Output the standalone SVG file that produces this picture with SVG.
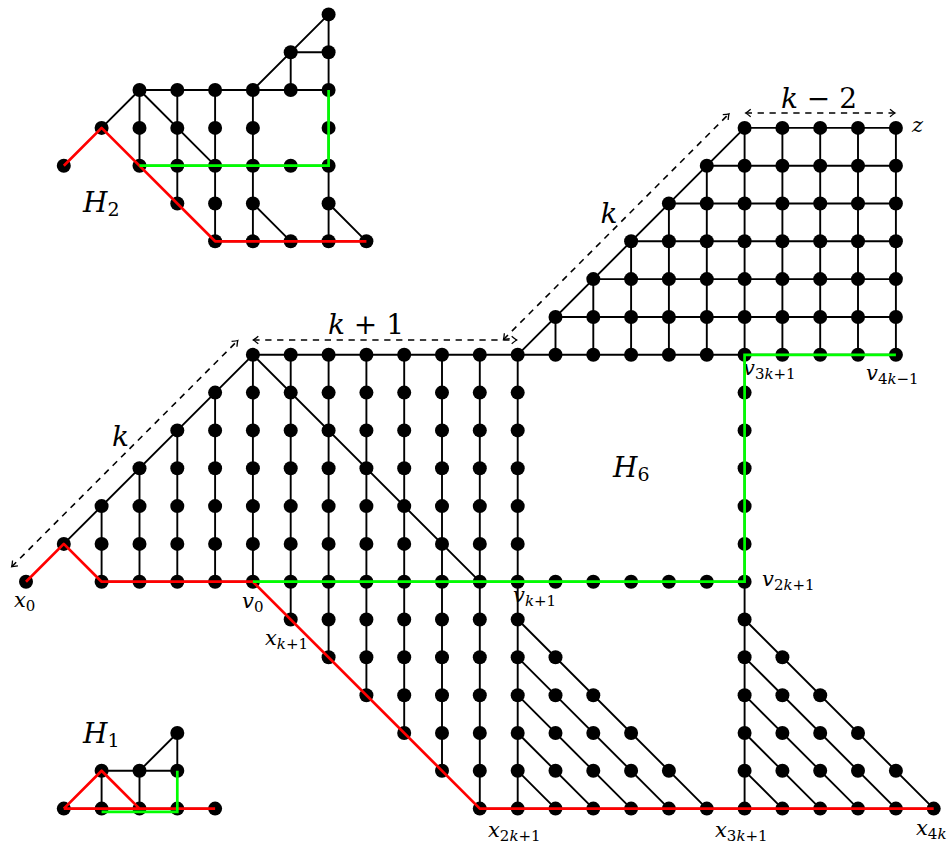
<svg xmlns="http://www.w3.org/2000/svg" width="950" height="844" viewBox="0 0 950 844">
<defs>
<style>
.e{fill:none;stroke:#000;stroke-width:1.9}
.r{fill:none;stroke:#ff0000;stroke-width:2.7;stroke-linejoin:round}
.g{fill:none;stroke:#00ff00;stroke-width:2.7;stroke-linejoin:miter}
.dim{fill:none;stroke:#000;stroke-width:1.6;stroke-dasharray:6.3 5.6;marker-start:url(#ah);marker-end:url(#ah)}
circle{fill:#000}
text{font-family:"DejaVu Serif",serif;fill:#000}
.lb{font-size:21px}
.sub{font-size:15px}
.i{font-style:italic}
.dl{font-size:28px;font-style:italic}
.H{font-size:28px}
.Hs{font-size:19px;font-style:normal}
</style>
<marker id="ah" viewBox="-7 -5 9 10" refX="0" refY="0" markerWidth="9" markerHeight="10" markerUnits="userSpaceOnUse" orient="auto-start-reverse">
<path d="M-5,-3.8 Q-1.5,-0.8 0,0 Q-1.5,0.8 -5,3.8" fill="none" stroke="#000" stroke-width="1.3" stroke-dasharray="none"/>
</marker>
</defs>
<rect width="950" height="844" fill="#fff"/>

<g id="labels">
<text class="lb" x="14" y="607"><tspan class="i">x</tspan><tspan class="sub" dy="4">0</tspan></text>
<text class="lb" x="242" y="608"><tspan class="i">v</tspan><tspan class="sub" dy="4">0</tspan></text>
<text class="lb" x="265" y="645"><tspan class="i">x</tspan><tspan class="sub" dy="4"><tspan class="i">k</tspan>+1</tspan></text>
<text class="lb" x="488" y="837"><tspan class="i">x</tspan><tspan class="sub" dy="4">2<tspan class="i">k</tspan>+1</tspan></text>
<text class="lb" x="513" y="602"><tspan class="i">v</tspan><tspan class="sub" dy="4"><tspan class="i">k</tspan>+1</tspan></text>
<text class="lb" x="762" y="586"><tspan class="i">v</tspan><tspan class="sub" dy="4">2<tspan class="i">k</tspan>+1</tspan></text>
<text class="lb" x="743" y="375"><tspan class="i">v</tspan><tspan class="sub" dy="4">3<tspan class="i">k</tspan>+1</tspan></text>
<text class="lb" x="866" y="380"><tspan class="i">v</tspan><tspan class="sub" dy="4">4<tspan class="i">k</tspan>−1</tspan></text>
<text class="lb i" x="912" y="132">z</text>
<text class="lb" x="715" y="837"><tspan class="i">x</tspan><tspan class="sub" dy="4">3<tspan class="i">k</tspan>+1</tspan></text>
<text class="lb" x="916" y="835"><tspan class="i">x</tspan><tspan class="sub" dy="4">4<tspan class="i">k</tspan></tspan></text>
<text class="dl" x="120.5" y="446" text-anchor="middle">k</text>
<text class="dl" x="609" y="223" text-anchor="middle">k</text>
<text class="dl" x="366" y="334" text-anchor="middle">k <tspan font-style="normal">+ 1</tspan></text>
<text class="dl" x="819" y="108" text-anchor="middle">k <tspan font-style="normal">− 2</tspan></text>
<text class="H" x="83" y="212"><tspan class="i">H</tspan><tspan class="Hs" dy="4">2</tspan></text>
<text class="H" x="613" y="477"><tspan class="i">H</tspan><tspan class="Hs" dy="4">6</tspan></text>
<text class="H" x="83" y="743"><tspan class="i">H</tspan><tspan class="Hs" dy="4">1</tspan></text>
</g>

<g id="dimensions">
<path class="dim" d="M11.7 566.7 L237.8 340.5"/>
<path class="dim" d="M253.3 340 H516.7"/>
<path class="dim" d="M503.5 339.5 L729 113.8"/>
<path class="dim" d="M745.7 113 H895"/>
</g>

<g id="connectors">
<path class="e" d="M63.8 543.9 L252.9 354.8 M101.6 581.7 V506.1 M139.5 581.7 V468.2 M177.3 581.7 V430.4 M215.1 581.7 V392.6 M252.9 581.7 V354.8 M101.6 581.7 H744.6 M252.9 354.8 H895.9 M252.9 354.8 L479.8 581.7"/>
<path class="e" d="M290.7 354.8 V619.5 M328.6 354.8 V657.3 M366.4 354.8 V695.2 M404.2 354.8 V733 M442 354.8 V770.8 M479.8 354.8 V808.6 M517.7 354.8 V808.6 M744.6 127.9 V808.6"/>
<path class="e" d="M517.7 354.8 L744.6 127.9 M555.5 317 H895.9 M593.3 279.1 H895.9 M631.1 241.3 H895.9 M668.9 203.5 H895.9 M706.8 165.7 H895.9 M744.6 127.9 H895.9 M555.5 354.8 V317 M593.3 354.8 V279.1 M631.1 354.8 V241.3 M668.9 354.8 V203.5 M706.8 354.8 V165.7 M782.4 354.8 V127.9 M820.2 354.8 V127.9 M858 354.8 V127.9 M895.9 354.8 V127.9"/>
<path class="e" d="M517.7 619.5 L706.8 808.6 M517.7 657.3 L668.9 808.6 M517.7 695.2 L631.1 808.6 M517.7 733 L593.3 808.6 M517.7 770.8 L555.5 808.6 M744.6 619.5 L933.7 808.6 M744.6 657.3 L895.9 808.6 M744.6 695.2 L858 808.6 M744.6 733 L820.2 808.6 M744.6 770.8 L782.4 808.6 M479.8 808.6 H933.7"/>
<path class="e" d="M101.6 127.9 L139.5 90 H328.6 M139.5 90 L215.1 165.7 M139.5 90 V165.7 M177.3 90 V203.5 M215.1 90 V241.3 M252.9 90 V241.3 M252.9 90 L328.6 14.4 M290.7 52.2 H328.6 M290.7 52.2 V90 M328.6 14.4 V241.3 M252.9 203.5 L290.7 241.3 M328.6 203.5 L366.4 241.3 M139.5 165.7 H328.6 M215.1 241.3 H366.4"/>
<path class="e" d="M101.6 770.8 V808.6 M101.6 770.8 H177.3 M139.5 770.8 V808.6 M139.5 770.8 L177.3 733 V770.8 M63.8 808.6 H215.1"/>
</g>

<g id="nodes-H2">
<g id="h2_1_11"><circle cx="63.8" cy="165.7" r="7"/></g>
<g id="h2_2_12"><circle cx="101.6" cy="127.9" r="7"/></g>
<g id="h2_3_13"><circle cx="139.5" cy="90" r="7"/></g>
<g id="h2_3_12"><circle cx="139.5" cy="127.9" r="7"/></g>
<g id="h2_3_11"><circle cx="139.5" cy="165.7" r="7"/></g>
<g id="h2_4_13"><circle cx="177.3" cy="90" r="7"/></g>
<g id="h2_4_12"><circle cx="177.3" cy="127.9" r="7"/></g>
<g id="h2_4_11"><circle cx="177.3" cy="165.7" r="7"/></g>
<g id="h2_4_10"><circle cx="177.3" cy="203.5" r="7"/></g>
<g id="h2_5_13"><circle cx="215.1" cy="90" r="7"/></g>
<g id="h2_5_12"><circle cx="215.1" cy="127.9" r="7"/></g>
<g id="h2_5_11"><circle cx="215.1" cy="165.7" r="7"/></g>
<g id="h2_5_10"><circle cx="215.1" cy="203.5" r="7"/></g>
<g id="h2_5_9"><circle cx="215.1" cy="241.3" r="7"/></g>
<g id="h2_6_13"><circle cx="252.9" cy="90" r="7"/></g>
<g id="h2_6_12"><circle cx="252.9" cy="127.9" r="7"/></g>
<g id="h2_6_11"><circle cx="252.9" cy="165.7" r="7"/></g>
<g id="h2_6_10"><circle cx="252.9" cy="203.5" r="7"/></g>
<g id="h2_6_9"><circle cx="252.9" cy="241.3" r="7"/></g>
<g id="h2_7_14"><circle cx="290.7" cy="52.2" r="7"/></g>
<g id="h2_7_13"><circle cx="290.7" cy="90" r="7"/></g>
<g id="h2_7_11"><circle cx="290.7" cy="165.7" r="7"/></g>
<g id="h2_7_9"><circle cx="290.7" cy="241.3" r="7"/></g>
<g id="h2_8_15"><circle cx="328.6" cy="14.4" r="7"/></g>
<g id="h2_8_14"><circle cx="328.6" cy="52.2" r="7"/></g>
<g id="h2_8_13"><circle cx="328.6" cy="90" r="7"/></g>
<g id="h2_8_12"><circle cx="328.6" cy="127.9" r="7"/></g>
<g id="h2_8_11"><circle cx="328.6" cy="165.7" r="7"/></g>
<g id="h2_8_10"><circle cx="328.6" cy="203.5" r="7"/></g>
<g id="h2_8_9"><circle cx="328.6" cy="241.3" r="7"/></g>
<g id="h2_9_9"><circle cx="366.4" cy="241.3" r="7"/></g>
</g>

<g id="nodes-H1">
<g id="h1_1"><circle cx="63.8" cy="808.6" r="7"/></g>
<g id="h1_2"><circle cx="101.6" cy="808.6" r="7"/></g>
<g id="h1_3"><circle cx="139.5" cy="808.6" r="7"/></g>
<g id="h1_4"><circle cx="177.3" cy="808.6" r="7"/></g>
<g id="h1_5"><circle cx="215.1" cy="808.6" r="7"/></g>
<g id="h1_6"><circle cx="101.6" cy="770.8" r="7"/></g>
<g id="h1_7"><circle cx="139.5" cy="770.8" r="7"/></g>
<g id="h1_8"><circle cx="177.3" cy="770.8" r="7"/></g>
<g id="h1_9"><circle cx="177.3" cy="733" r="7"/></g>
</g>

<g id="nodes-H6">
<g id="x0"><circle cx="26" cy="581.7" r="7"/></g>
<g id="m1_1"><circle cx="63.8" cy="543.9" r="7"/></g>
<g id="m2_0"><circle cx="101.6" cy="581.7" r="7"/></g>
<g id="m2_1"><circle cx="101.6" cy="543.9" r="7"/></g>
<g id="m2_2"><circle cx="101.6" cy="506.1" r="7"/></g>
<g id="m3_0"><circle cx="139.5" cy="581.7" r="7"/></g>
<g id="m3_1"><circle cx="139.5" cy="543.9" r="7"/></g>
<g id="m3_2"><circle cx="139.5" cy="506.1" r="7"/></g>
<g id="m3_3"><circle cx="139.5" cy="468.2" r="7"/></g>
<g id="m4_0"><circle cx="177.3" cy="581.7" r="7"/></g>
<g id="m4_1"><circle cx="177.3" cy="543.9" r="7"/></g>
<g id="m4_2"><circle cx="177.3" cy="506.1" r="7"/></g>
<g id="m4_3"><circle cx="177.3" cy="468.2" r="7"/></g>
<g id="m4_4"><circle cx="177.3" cy="430.4" r="7"/></g>
<g id="m5_0"><circle cx="215.1" cy="581.7" r="7"/></g>
<g id="m5_1"><circle cx="215.1" cy="543.9" r="7"/></g>
<g id="m5_2"><circle cx="215.1" cy="506.1" r="7"/></g>
<g id="m5_3"><circle cx="215.1" cy="468.2" r="7"/></g>
<g id="m5_4"><circle cx="215.1" cy="430.4" r="7"/></g>
<g id="m5_5"><circle cx="215.1" cy="392.6" r="7"/></g>
<g id="v0"><circle cx="252.9" cy="581.7" r="7"/></g>
<g id="m6_1"><circle cx="252.9" cy="543.9" r="7"/></g>
<g id="m6_2"><circle cx="252.9" cy="506.1" r="7"/></g>
<g id="m6_3"><circle cx="252.9" cy="468.2" r="7"/></g>
<g id="m6_4"><circle cx="252.9" cy="430.4" r="7"/></g>
<g id="m6_5"><circle cx="252.9" cy="392.6" r="7"/></g>
<g id="m6_6"><circle cx="252.9" cy="354.8" r="7"/></g>
<g id="m7_6"><circle cx="290.7" cy="354.8" r="7"/></g>
<g id="m7_5"><circle cx="290.7" cy="392.6" r="7"/></g>
<g id="m7_4"><circle cx="290.7" cy="430.4" r="7"/></g>
<g id="m7_3"><circle cx="290.7" cy="468.2" r="7"/></g>
<g id="m7_2"><circle cx="290.7" cy="506.1" r="7"/></g>
<g id="m7_1"><circle cx="290.7" cy="543.9" r="7"/></g>
<g id="m7_0"><circle cx="290.7" cy="581.7" r="7"/></g>
<g id="xk1"><circle cx="290.7" cy="619.5" r="7"/></g>
<g id="m8_6"><circle cx="328.6" cy="354.8" r="7"/></g>
<g id="m8_5"><circle cx="328.6" cy="392.6" r="7"/></g>
<g id="m8_4"><circle cx="328.6" cy="430.4" r="7"/></g>
<g id="m8_3"><circle cx="328.6" cy="468.2" r="7"/></g>
<g id="m8_2"><circle cx="328.6" cy="506.1" r="7"/></g>
<g id="m8_1"><circle cx="328.6" cy="543.9" r="7"/></g>
<g id="m8_0"><circle cx="328.6" cy="581.7" r="7"/></g>
<g id="m8_n1"><circle cx="328.6" cy="619.5" r="7"/></g>
<g id="m8_n2"><circle cx="328.6" cy="657.3" r="7"/></g>
<g id="m9_6"><circle cx="366.4" cy="354.8" r="7"/></g>
<g id="m9_5"><circle cx="366.4" cy="392.6" r="7"/></g>
<g id="m9_4"><circle cx="366.4" cy="430.4" r="7"/></g>
<g id="m9_3"><circle cx="366.4" cy="468.2" r="7"/></g>
<g id="m9_2"><circle cx="366.4" cy="506.1" r="7"/></g>
<g id="m9_1"><circle cx="366.4" cy="543.9" r="7"/></g>
<g id="m9_0"><circle cx="366.4" cy="581.7" r="7"/></g>
<g id="m9_n1"><circle cx="366.4" cy="619.5" r="7"/></g>
<g id="m9_n2"><circle cx="366.4" cy="657.3" r="7"/></g>
<g id="m9_n3"><circle cx="366.4" cy="695.2" r="7"/></g>
<g id="m10_6"><circle cx="404.2" cy="354.8" r="7"/></g>
<g id="m10_5"><circle cx="404.2" cy="392.6" r="7"/></g>
<g id="m10_4"><circle cx="404.2" cy="430.4" r="7"/></g>
<g id="m10_3"><circle cx="404.2" cy="468.2" r="7"/></g>
<g id="m10_2"><circle cx="404.2" cy="506.1" r="7"/></g>
<g id="m10_1"><circle cx="404.2" cy="543.9" r="7"/></g>
<g id="m10_0"><circle cx="404.2" cy="581.7" r="7"/></g>
<g id="m10_n1"><circle cx="404.2" cy="619.5" r="7"/></g>
<g id="m10_n2"><circle cx="404.2" cy="657.3" r="7"/></g>
<g id="m10_n3"><circle cx="404.2" cy="695.2" r="7"/></g>
<g id="m10_n4"><circle cx="404.2" cy="733" r="7"/></g>
<g id="m11_6"><circle cx="442" cy="354.8" r="7"/></g>
<g id="m11_5"><circle cx="442" cy="392.6" r="7"/></g>
<g id="m11_4"><circle cx="442" cy="430.4" r="7"/></g>
<g id="m11_3"><circle cx="442" cy="468.2" r="7"/></g>
<g id="m11_2"><circle cx="442" cy="506.1" r="7"/></g>
<g id="m11_1"><circle cx="442" cy="543.9" r="7"/></g>
<g id="m11_0"><circle cx="442" cy="581.7" r="7"/></g>
<g id="m11_n1"><circle cx="442" cy="619.5" r="7"/></g>
<g id="m11_n2"><circle cx="442" cy="657.3" r="7"/></g>
<g id="m11_n3"><circle cx="442" cy="695.2" r="7"/></g>
<g id="m11_n4"><circle cx="442" cy="733" r="7"/></g>
<g id="m11_n5"><circle cx="442" cy="770.8" r="7"/></g>
<g id="m12_6"><circle cx="479.8" cy="354.8" r="7"/></g>
<g id="m12_5"><circle cx="479.8" cy="392.6" r="7"/></g>
<g id="m12_4"><circle cx="479.8" cy="430.4" r="7"/></g>
<g id="m12_3"><circle cx="479.8" cy="468.2" r="7"/></g>
<g id="m12_2"><circle cx="479.8" cy="506.1" r="7"/></g>
<g id="m12_1"><circle cx="479.8" cy="543.9" r="7"/></g>
<g id="m12_0"><circle cx="479.8" cy="581.7" r="7"/></g>
<g id="m12_n1"><circle cx="479.8" cy="619.5" r="7"/></g>
<g id="m12_n2"><circle cx="479.8" cy="657.3" r="7"/></g>
<g id="m12_n3"><circle cx="479.8" cy="695.2" r="7"/></g>
<g id="m12_n4"><circle cx="479.8" cy="733" r="7"/></g>
<g id="m12_n5"><circle cx="479.8" cy="770.8" r="7"/></g>
<g id="x2k1"><circle cx="479.8" cy="808.6" r="7"/></g>
<g id="m13_6"><circle cx="517.7" cy="354.8" r="7"/></g>
<g id="m13_5"><circle cx="517.7" cy="392.6" r="7"/></g>
<g id="m13_4"><circle cx="517.7" cy="430.4" r="7"/></g>
<g id="m13_3"><circle cx="517.7" cy="468.2" r="7"/></g>
<g id="m13_2"><circle cx="517.7" cy="506.1" r="7"/></g>
<g id="m13_1"><circle cx="517.7" cy="543.9" r="7"/></g>
<g id="vk1"><circle cx="517.7" cy="581.7" r="7"/></g>
<g id="m13_n1"><circle cx="517.7" cy="619.5" r="7"/></g>
<g id="m13_n2"><circle cx="517.7" cy="657.3" r="7"/></g>
<g id="m13_n3"><circle cx="517.7" cy="695.2" r="7"/></g>
<g id="m13_n4"><circle cx="517.7" cy="733" r="7"/></g>
<g id="m13_n5"><circle cx="517.7" cy="770.8" r="7"/></g>
<g id="m13_n6"><circle cx="517.7" cy="808.6" r="7"/></g>
<g id="m14_0"><circle cx="555.5" cy="581.7" r="7"/></g>
<g id="m15_0"><circle cx="593.3" cy="581.7" r="7"/></g>
<g id="m16_0"><circle cx="631.1" cy="581.7" r="7"/></g>
<g id="m17_0"><circle cx="668.9" cy="581.7" r="7"/></g>
<g id="m18_0"><circle cx="706.8" cy="581.7" r="7"/></g>
<g id="m19_5"><circle cx="744.6" cy="392.6" r="7"/></g>
<g id="m19_4"><circle cx="744.6" cy="430.4" r="7"/></g>
<g id="m19_3"><circle cx="744.6" cy="468.2" r="7"/></g>
<g id="m19_2"><circle cx="744.6" cy="506.1" r="7"/></g>
<g id="m19_1"><circle cx="744.6" cy="543.9" r="7"/></g>
<g id="v2k1"><circle cx="744.6" cy="581.7" r="7"/></g>
<g id="m19_n1"><circle cx="744.6" cy="619.5" r="7"/></g>
<g id="m19_n2"><circle cx="744.6" cy="657.3" r="7"/></g>
<g id="m19_n3"><circle cx="744.6" cy="695.2" r="7"/></g>
<g id="m19_n4"><circle cx="744.6" cy="733" r="7"/></g>
<g id="m19_n5"><circle cx="744.6" cy="770.8" r="7"/></g>
<g id="x3k1"><circle cx="744.6" cy="808.6" r="7"/></g>
<g id="t14_n2"><circle cx="555.5" cy="657.3" r="7"/></g>
<g id="t14_n3"><circle cx="555.5" cy="695.2" r="7"/></g>
<g id="t14_n4"><circle cx="555.5" cy="733" r="7"/></g>
<g id="t14_n5"><circle cx="555.5" cy="770.8" r="7"/></g>
<g id="t14_n6"><circle cx="555.5" cy="808.6" r="7"/></g>
<g id="t15_n3"><circle cx="593.3" cy="695.2" r="7"/></g>
<g id="t15_n4"><circle cx="593.3" cy="733" r="7"/></g>
<g id="t15_n5"><circle cx="593.3" cy="770.8" r="7"/></g>
<g id="t15_n6"><circle cx="593.3" cy="808.6" r="7"/></g>
<g id="t16_n4"><circle cx="631.1" cy="733" r="7"/></g>
<g id="t16_n5"><circle cx="631.1" cy="770.8" r="7"/></g>
<g id="t16_n6"><circle cx="631.1" cy="808.6" r="7"/></g>
<g id="t17_n5"><circle cx="668.9" cy="770.8" r="7"/></g>
<g id="t17_n6"><circle cx="668.9" cy="808.6" r="7"/></g>
<g id="t18_n6"><circle cx="706.8" cy="808.6" r="7"/></g>
<g id="t20_n2"><circle cx="782.4" cy="657.3" r="7"/></g>
<g id="t20_n3"><circle cx="782.4" cy="695.2" r="7"/></g>
<g id="t20_n4"><circle cx="782.4" cy="733" r="7"/></g>
<g id="t20_n5"><circle cx="782.4" cy="770.8" r="7"/></g>
<g id="t20_n6"><circle cx="782.4" cy="808.6" r="7"/></g>
<g id="t21_n3"><circle cx="820.2" cy="695.2" r="7"/></g>
<g id="t21_n4"><circle cx="820.2" cy="733" r="7"/></g>
<g id="t21_n5"><circle cx="820.2" cy="770.8" r="7"/></g>
<g id="t21_n6"><circle cx="820.2" cy="808.6" r="7"/></g>
<g id="t22_n4"><circle cx="858" cy="733" r="7"/></g>
<g id="t22_n5"><circle cx="858" cy="770.8" r="7"/></g>
<g id="t22_n6"><circle cx="858" cy="808.6" r="7"/></g>
<g id="t23_n5"><circle cx="895.9" cy="770.8" r="7"/></g>
<g id="t23_n6"><circle cx="895.9" cy="808.6" r="7"/></g>
<g id="x4k"><circle cx="933.7" cy="808.6" r="7"/></g>
<g id="u14_6"><circle cx="555.5" cy="354.8" r="7"/></g>
<g id="u15_6"><circle cx="593.3" cy="354.8" r="7"/></g>
<g id="u16_6"><circle cx="631.1" cy="354.8" r="7"/></g>
<g id="u17_6"><circle cx="668.9" cy="354.8" r="7"/></g>
<g id="u18_6"><circle cx="706.8" cy="354.8" r="7"/></g>
<g id="v3k1"><circle cx="744.6" cy="354.8" r="7"/></g>
<g id="u20_6"><circle cx="782.4" cy="354.8" r="7"/></g>
<g id="u21_6"><circle cx="820.2" cy="354.8" r="7"/></g>
<g id="u22_6"><circle cx="858" cy="354.8" r="7"/></g>
<g id="v4km1"><circle cx="895.9" cy="354.8" r="7"/></g>
<g id="u14_7"><circle cx="555.5" cy="317" r="7"/></g>
<g id="u15_7"><circle cx="593.3" cy="317" r="7"/></g>
<g id="u16_7"><circle cx="631.1" cy="317" r="7"/></g>
<g id="u17_7"><circle cx="668.9" cy="317" r="7"/></g>
<g id="u18_7"><circle cx="706.8" cy="317" r="7"/></g>
<g id="u19_7"><circle cx="744.6" cy="317" r="7"/></g>
<g id="u20_7"><circle cx="782.4" cy="317" r="7"/></g>
<g id="u21_7"><circle cx="820.2" cy="317" r="7"/></g>
<g id="u22_7"><circle cx="858" cy="317" r="7"/></g>
<g id="u23_7"><circle cx="895.9" cy="317" r="7"/></g>
<g id="u15_8"><circle cx="593.3" cy="279.1" r="7"/></g>
<g id="u16_8"><circle cx="631.1" cy="279.1" r="7"/></g>
<g id="u17_8"><circle cx="668.9" cy="279.1" r="7"/></g>
<g id="u18_8"><circle cx="706.8" cy="279.1" r="7"/></g>
<g id="u19_8"><circle cx="744.6" cy="279.1" r="7"/></g>
<g id="u20_8"><circle cx="782.4" cy="279.1" r="7"/></g>
<g id="u21_8"><circle cx="820.2" cy="279.1" r="7"/></g>
<g id="u22_8"><circle cx="858" cy="279.1" r="7"/></g>
<g id="u23_8"><circle cx="895.9" cy="279.1" r="7"/></g>
<g id="u16_9"><circle cx="631.1" cy="241.3" r="7"/></g>
<g id="u17_9"><circle cx="668.9" cy="241.3" r="7"/></g>
<g id="u18_9"><circle cx="706.8" cy="241.3" r="7"/></g>
<g id="u19_9"><circle cx="744.6" cy="241.3" r="7"/></g>
<g id="u20_9"><circle cx="782.4" cy="241.3" r="7"/></g>
<g id="u21_9"><circle cx="820.2" cy="241.3" r="7"/></g>
<g id="u22_9"><circle cx="858" cy="241.3" r="7"/></g>
<g id="u23_9"><circle cx="895.9" cy="241.3" r="7"/></g>
<g id="u17_10"><circle cx="668.9" cy="203.5" r="7"/></g>
<g id="u18_10"><circle cx="706.8" cy="203.5" r="7"/></g>
<g id="u19_10"><circle cx="744.6" cy="203.5" r="7"/></g>
<g id="u20_10"><circle cx="782.4" cy="203.5" r="7"/></g>
<g id="u21_10"><circle cx="820.2" cy="203.5" r="7"/></g>
<g id="u22_10"><circle cx="858" cy="203.5" r="7"/></g>
<g id="u23_10"><circle cx="895.9" cy="203.5" r="7"/></g>
<g id="u18_11"><circle cx="706.8" cy="165.7" r="7"/></g>
<g id="u19_11"><circle cx="744.6" cy="165.7" r="7"/></g>
<g id="u20_11"><circle cx="782.4" cy="165.7" r="7"/></g>
<g id="u21_11"><circle cx="820.2" cy="165.7" r="7"/></g>
<g id="u22_11"><circle cx="858" cy="165.7" r="7"/></g>
<g id="u23_11"><circle cx="895.9" cy="165.7" r="7"/></g>
<g id="u19_12"><circle cx="744.6" cy="127.9" r="7"/></g>
<g id="u20_12"><circle cx="782.4" cy="127.9" r="7"/></g>
<g id="u21_12"><circle cx="820.2" cy="127.9" r="7"/></g>
<g id="u22_12"><circle cx="858" cy="127.9" r="7"/></g>
<g id="z"><circle cx="895.9" cy="127.9" r="7"/></g>
</g>

<g id="paths">
<path class="r" d="M26 581.7 L63.8 543.9 L101.6 581.7 H252.9 L479.8 808.6 H933.7"/>
<path class="g" d="M252.9 581.7 H744.6 V354.8 H895.9"/>
<path class="r" d="M63.8 165.7 L101.6 127.9 L215.1 241.3 H366.4"/>
<path class="g" d="M139.5 165.7 H328.6 V90"/>
<path class="r" d="M63.8 808.6 L101.6 770.8 L139.5 808.6 M63.8 808.6 H215.1"/>
<path class="g" d="M101.6 811.8 H177.3 V770.8"/>
</g>
</svg>
